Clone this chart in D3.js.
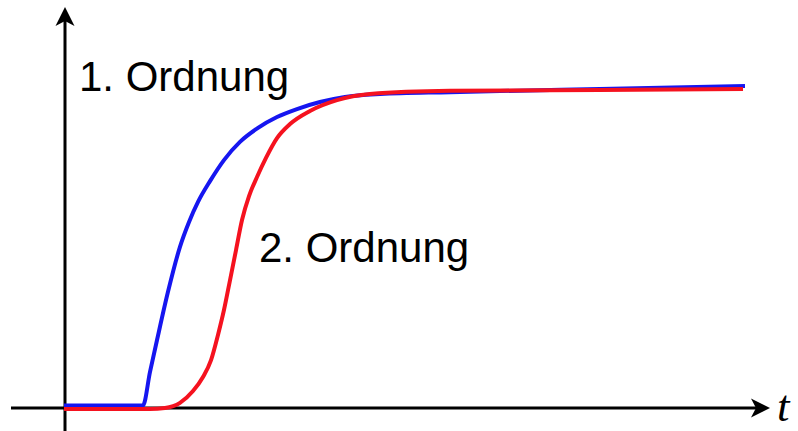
<!DOCTYPE html>
<head>
	<meta charset="utf-8" />
	<style>
		body {
			margin: 0;
			background-color: #fff;
			overflow: hidden;
		}
		.label {
			font-family: 'Liberation Sans', Arial, sans-serif;
			font-size: 42px;
			fill: #000;
		}
		.tlabel {
			font-family: 'Liberation Serif', 'Times New Roman', serif;
			font-style: italic;
			font-size: 45px;
			fill: #000;
		}
	</style>
</head>
<body>
	<div id="chart-area"></div>
	<script src="https://cdnjs.cloudflare.com/ajax/libs/d3/7.8.5/d3.min.js"></script>
	<script>
		// 1. Ordnung (blue)
		const tFirst = [0, 1.16, 1.263, 1.366, 1.527, 1.703, 1.836, 1.968, 2.144, 2.349, 2.584, 2.849, 3.128, 3.421, 3.759, 4.126, 4.64, 5.668, 7.871, 10];
		const vFirst = [0.005, 0.005, 0.11, 0.21, 0.361, 0.502, 0.58, 0.643, 0.708, 0.774, 0.831, 0.875, 0.909, 0.934, 0.956, 0.972, 0.981, 0.987, 0.997, 1.006];

		// 2. Ordnung (red)
		const tSecond = [0, 1.263, 1.483, 1.703, 1.894, 2.041, 2.159, 2.261, 2.349, 2.438, 2.526, 2.614, 2.717, 2.834, 2.966, 3.128, 3.319, 3.612, 4.009, 4.493, 5.668, 7.871, 9.971];
		const vSecond = [-0.006, -0.006, -0.003, 0.013, 0.05, 0.094, 0.147, 0.226, 0.304, 0.398, 0.492, 0.586, 0.661, 0.721, 0.781, 0.843, 0.887, 0.928, 0.962, 0.981, 0.991, 0.994, 0.997];

		const labels = ['1. Ordnung', '2. Ordnung'];
		const axisLabel = 't';

		const width = 798,
			height = 431;

		const x = d3.scaleLinear().domain([0, 10]).range([64, 745]);
		const y = d3.scaleLinear().domain([0, 1]).range([407, 88]);

		const svg = d3
			.select('#chart-area')
			.append('svg')
			.attr('width', width)
			.attr('height', height);

		// axes with arrow heads
		const x0 = x(0),
			y0 = y(0) + 1;

		svg.append('line')
			.attr('x1', 11)
			.attr('x2', 762)
			.attr('y1', y0)
			.attr('y2', y0)
			.attr('stroke', '#000')
			.attr('stroke-width', 3);

		svg.append('line')
			.attr('x1', x0 + 1)
			.attr('x2', x0 + 1)
			.attr('y1', height)
			.attr('y2', 16)
			.attr('stroke', '#000')
			.attr('stroke-width', 3);

		const arrow = 'M0,0 L-19,-9.5 L-14,0 L-19,9.5 Z';

		svg.append('path')
			.attr('d', arrow)
			.attr('transform', `translate(770,${y0})`)
			.attr('fill', '#000');

		svg.append('path')
			.attr('d', arrow)
			.attr('transform', `translate(${x0 + 1},7) rotate(-90)`)
			.attr('fill', '#000');

		const line = d3
			.line()
			.x(d => x(d[0]))
			.y(d => y(d[1]))
			.curve(d3.curveMonotoneX);

		svg.append('path')
			.datum(d3.zip(tFirst, vFirst))
			.attr('d', line)
			.attr('fill', 'none')
			.attr('stroke', '#1616f0')
			.attr('stroke-width', 4)
			.attr('stroke-linejoin', 'round');

		svg.append('path')
			.datum(d3.zip(tSecond, vSecond))
			.attr('d', line)
			.attr('fill', 'none')
			.attr('stroke', '#f5121f')
			.attr('stroke-width', 4)
			.attr('stroke-linejoin', 'round');

		svg.append('text')
			.attr('class', 'label')
			.attr('x', 79)
			.attr('y', 91)
			.text(labels[0]);

		svg.append('text')
			.attr('class', 'label')
			.attr('x', 259)
			.attr('y', 262)
			.text(labels[1]);

		svg.append('text')
			.attr('class', 'tlabel')
			.attr('x', 777)
			.attr('y', 421)
			.text(axisLabel);
	</script>
</body>
